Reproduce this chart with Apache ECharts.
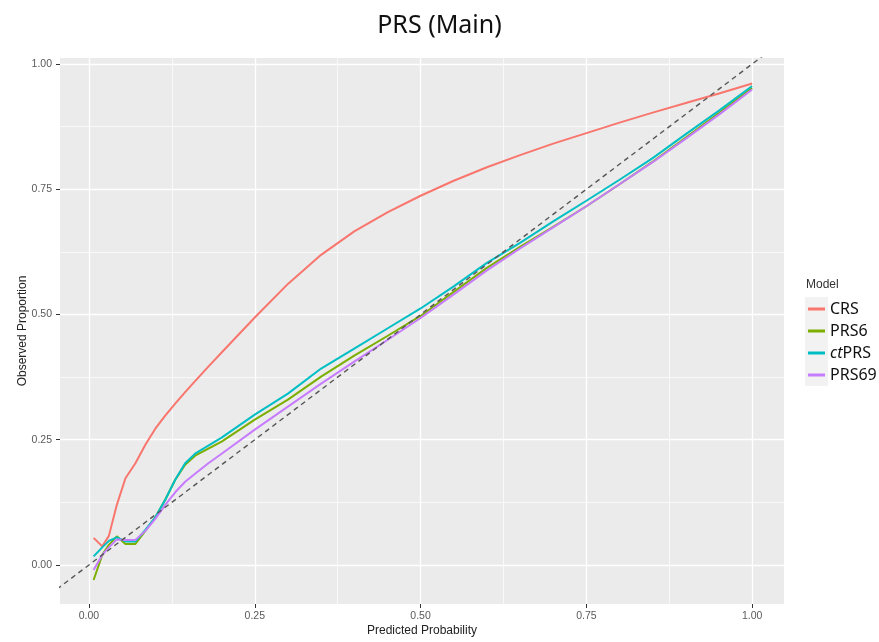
<!DOCTYPE html>
<html>
<head>
<meta charset="utf-8">
<title>PRS (Main)</title>
<script src="https://cdn.jsdelivr.net/npm/echarts@6/dist/echarts.min.js"></script>
<style>
html, body { margin: 0; padding: 0; background: #fff; }
#main { width: 879px; height: 642px; }
</style>
</head>
<body>
<div id="main"></div>
<script>
// predicted probability (x) shared by all models
var predicted = [0.007, 0.02, 0.03, 0.042, 0.055, 0.07, 0.085, 0.1, 0.115, 0.13, 0.145, 0.16, 0.18, 0.2,
	0.25, 0.3, 0.35, 0.4, 0.45, 0.5, 0.55, 0.6, 0.65, 0.7, 0.75, 0.8, 0.85, 0.9, 0.95, 1.0];

var crs = [0.054, 0.037, 0.058, 0.120, 0.173, 0.203, 0.240, 0.272, 0.298, 0.322, 0.345, 0.367, 0.396, 0.424,
	0.494, 0.561, 0.619, 0.666, 0.704, 0.737, 0.767, 0.794, 0.818, 0.841, 0.862, 0.883, 0.903, 0.922, 0.941, 0.961];
var prs6 = [-0.030, 0.020, 0.040, 0.057, 0.042, 0.042, 0.068, 0.095, 0.130, 0.170, 0.200, 0.218, 0.232, 0.246,
	0.290, 0.330, 0.376, 0.418, 0.457, 0.497, 0.545, 0.593, 0.635, 0.675, 0.716, 0.760, 0.805, 0.853, 0.902, 0.952];
var ctprs = [0.017, 0.035, 0.048, 0.055, 0.047, 0.047, 0.070, 0.095, 0.130, 0.170, 0.203, 0.222, 0.238, 0.254,
	0.300, 0.342, 0.392, 0.432, 0.472, 0.512, 0.556, 0.603, 0.643, 0.686, 0.727, 0.769, 0.812, 0.860, 0.907, 0.956];
var prs69 = [-0.010, 0.020, 0.035, 0.051, 0.050, 0.050, 0.068, 0.092, 0.120, 0.145, 0.166, 0.182, 0.203, 0.222,
	0.270, 0.316, 0.362, 0.406, 0.449, 0.493, 0.540, 0.588, 0.632, 0.674, 0.716, 0.760, 0.804, 0.851, 0.899, 0.949];

var modelNames = ['CRS', 'PRS6', 'ctPRS', 'PRS69'];
var modelColors = ['#F8766D', '#7CAE00', '#00BFC4', '#C77CFF'];
var tickValues = [0, 0.25, 0.5, 0.75, 1];
var minorValues = [0.125, 0.375, 0.625, 0.875];
var diagonal = [-0.2, 1.2];

function zip(xs, ys) {
	var out = [];
	for (var i = 0; i < xs.length; i++) out.push([xs[i], ys[i]]);
	return out;
}

var chart = echarts.init(document.getElementById('main'), null, { renderer: 'canvas' });

var nameStyle = { color: '#222', fontSize: 12, fontFamily: 'Liberation Sans' };

function mainAxis(name, min, max, gap, rotate, labelMargin) {
	return {
		type: 'value', min: min, max: max,
		name: name, nameLocation: 'middle', nameGap: gap, nameRotate: rotate,
		nameMoveOverlap: false,
		nameTextStyle: nameStyle,
		axisLine: { show: false, onZero: false },
		axisTick: { show: true, inside: false, customValues: tickValues, length: 4, lineStyle: { color: '#333', width: 1 } },
		axisLabel: {
			customValues: tickValues,
			formatter: function(v) { return v.toFixed(2); },
			color: '#5a5a5a',
			fontSize: 10.5,
			fontFamily: 'Liberation Sans',
			margin: labelMargin
		},
		splitLine: { show: true, lineStyle: { color: '#ffffff', width: 1.3 } }
	};
}
function minorAxis(min, max) {
	return {
		type: 'value', min: min, max: max,
		axisLine: { show: false, onZero: false },
		axisTick: { show: false, customValues: minorValues },
		axisLabel: { show: false, customValues: minorValues },
		splitLine: { show: true, lineStyle: { color: '#fafafa', width: 0.9 } }
	};
}

var xMin = -0.0437, xMax = 1.048, yMin = -0.078, yMax = 1.012;

var series = [];
var allY = [crs, prs6, ctprs, prs69];
for (var i = 0; i < modelNames.length; i++) {
	series.push({
		name: modelNames[i],
		type: 'line',
		data: zip(predicted, allY[i]),
		symbol: 'none',
		lineStyle: { width: 2, color: modelColors[i] },
		itemStyle: { color: modelColors[i] },
		z: 2 + i
	});
}
series.push({
	name: 'diagonal',
	type: 'line',
	data: zip(diagonal, diagonal),
	symbol: 'none',
	silent: true,
	lineStyle: { width: 1.4, color: '#555555', type: [5, 4] },
	z: 10
});

var option = {
	animation: false,
	title: [{
		text: 'PRS (Main)',
		left: 'center',
		top: 8,
		textStyle: { fontSize: 25, fontWeight: 'normal', color: '#111', fontFamily: 'Noto Sans' }
	}, {
		text: 'Model',
		left: 806,
		top: 279,
		padding: 0,
		textStyle: { fontSize: 12, fontWeight: 'normal', color: '#333', fontFamily: 'Liberation Sans' }
	}],
	grid: {
		left: 60, right: 95, top: 58, bottom: 38,
		show: true, backgroundColor: '#EBEBEB', borderWidth: 0
	},
	legend: {
		data: modelNames,
		orient: 'vertical',
		left: 808,
		top: 300,
		padding: 0,
		icon: 'rect',
		itemWidth: 17,
		itemHeight: 3,
		itemGap: 4,
		formatter: function(n) { return n === 'ctPRS' ? '{it|ct}PRS' : n; },
		textStyle: {
			fontSize: 16, fontFamily: 'Noto Sans', color: '#111', lineHeight: 18,
			rich: { it: { fontStyle: 'italic', fontSize: 16, fontFamily: 'Noto Sans', color: '#111' } }
		}
	},
	graphic: [{
		type: 'rect',
		left: 805, top: 297,
		shape: { width: 23, height: 89 },
		style: { fill: '#F2F2F2' },
		z: 0
	}],
	xAxis: [mainAxis('Predicted Probability', xMin, xMax, 21, 0, 7), minorAxis(xMin, xMax)],
	yAxis: [mainAxis('Observed Proportion', yMin, yMax, 31, 90, 8), minorAxis(yMin, yMax)],
	series: series
};

chart.setOption(option);

window.onresize = function() {
	chart.resize();
};
</script>
</body>
</html>
